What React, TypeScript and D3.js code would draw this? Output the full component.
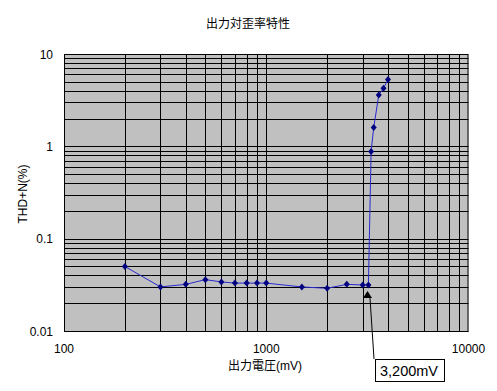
import React from "react";
import * as d3 from "d3";

const title = "出力対歪率特性";
const xTitle = "出力電圧(mV)";
const yTitle = "THD+N(%)";
const xValues = [200, 300, 400, 500, 600, 700, 800, 900, 1000, 1500, 2000, 2500, 3000, 3200, 3300, 3400, 3600, 3800, 4000];
const yValues = [0.05, 0.03, 0.032, 0.036, 0.034, 0.033, 0.033, 0.033, 0.033, 0.03, 0.029, 0.032, 0.0315, 0.0315, 0.88, 1.6, 3.6, 4.25, 5.3];
const xTickLabels = [100, 1000, 10000];
const yTickLabels = [0.01, 0.1, 1, 10];
const annotationText = "3,200mV";
const annotationX = 3200;

const W = 497;
const H = 391;
const L = 64, R = 468.5, T = 54, B = 331;

export default function App() {
  const x = d3.scaleLog().domain([100, 10000]).range([L, R]);
  const y = d3.scaleLog().domain([0.01, 10]).range([B, T]);

  const xMinor: number[] = [];
  for (let d = 100; d < 10000; d *= 10) for (let k = 1; k <= 9; k++) xMinor.push(d * k);
  const yMinor: number[] = [];
  for (let d = 0.01; d < 9; d *= 10) for (let k = 1; k <= 9; k++) yMinor.push(d * k);

  const line = d3.line<number>().x((_, i) => x(xValues[i])).y((v) => y(v));
  const font = "'Liberation Sans', 'Noto Sans CJK JP', sans-serif";
  const ax = Math.round(x(annotationX));
  const pt = y(yValues[xValues.indexOf(annotationX)]);

  return (
    <svg width={W} height={H} style={{ position: "absolute", left: 0, top: 0 }} fontFamily={font}>
      <rect x={0} y={0} width={W} height={H} fill="#fff" />
      <text x={248} y={27.5} fontSize={12} textAnchor="middle">{title}</text>
      <rect x={L} y={T} width={R - L} height={B - T} fill="#c0c0c0" />
      {xMinor.map((v, i) => (
        <line key={"x" + i} x1={Math.round(x(v)) + 0.5} x2={Math.round(x(v)) + 0.5} y1={T} y2={B} stroke="#000" strokeWidth={1} />
      ))}
      {yMinor.map((v, i) => (
        <line key={"y" + i} x1={L} x2={R} y1={Math.round(y(v)) + 0.5} y2={Math.round(y(v)) + 0.5} stroke="#000" strokeWidth={1} />
      ))}
      <rect x={L + 0.5} y={T + 0.5} width={R - L - 1} height={B - T} fill="none" stroke="#000" strokeWidth={1} />
      <path d={line(yValues) || ""} fill="none" stroke="#2a2ad0" strokeWidth={1} />
      {yValues.map((v, i) => {
        const cx = x(xValues[i]);
        const cy = y(v);
        return <path key={"m" + i} d={`M${cx},${cy - 3.5}L${cx + 3},${cy}L${cx},${cy + 3.5}L${cx - 3},${cy}Z`} fill="#000080" />;
      })}
      {yTickLabels.map((v) => (
        <text key={"yl" + v} x={53} y={y(v) + 4.5} fontSize={12} textAnchor="end">{String(v)}</text>
      ))}
      {xTickLabels.map((v) => (
        <text key={"xl" + v} x={x(v)} y={353} fontSize={12} textAnchor="middle">{String(v)}</text>
      ))}
      <text x={265} y={370} fontSize={12} textAnchor="middle">{xTitle}</text>
      <text transform="translate(27,194) rotate(-90)" fontSize={12} textAnchor="middle">{yTitle}</text>
      <line x1={374} y1={359} x2={370} y2={298} stroke="#000" strokeWidth={1} />
      <path d={`M${ax - 0.5},${pt + 6} L${ax + 4},${pt + 13} L${ax - 5},${pt + 13} Z`} fill="#000" />
      <rect x={375.5} y={359.5} width={69} height={22} fill="#fff" stroke="#000" strokeWidth={1} />
      <text x={380} y={376} fontSize={14.5}>{annotationText}</text>
    </svg>
  );
}
